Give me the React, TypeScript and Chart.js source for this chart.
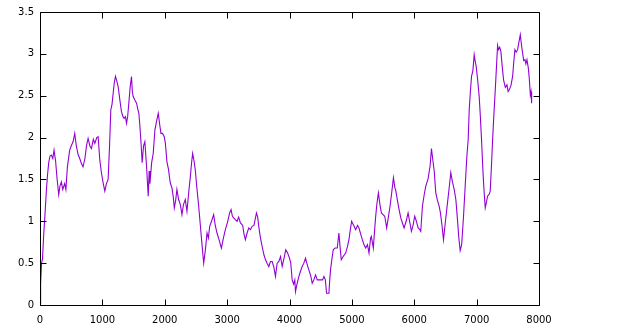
import React, { useEffect, useRef } from "react";
import { Chart, registerables } from "chart.js";

Chart.register(...registerables);

const xValues: number[] = [
  0, 10, 25, 40, 60, 75, 100, 120, 140, 160, 182, 205, 225, 250, 275, 300, 320, 343, 365, 395,
  415, 439, 476, 500, 530, 557, 582, 610, 637, 660, 690, 720, 745, 771, 800, 825, 855, 879, 910, 932,
  959, 985, 1012, 1039, 1065, 1092, 1115, 1135, 1155, 1173, 1190, 1210, 1230, 1253, 1280, 1306, 1330, 1349, 1370, 1387,
  1405, 1424, 1445, 1467, 1480, 1494, 1520, 1548, 1565, 1585, 1600, 1617, 1638, 1660, 1681, 1708, 1735, 1750, 1762, 1790,
  1815, 1842, 1870, 1896, 1920, 1939, 1965, 1992, 2010, 2035, 2060, 2088, 2115, 2135, 2153, 2175, 2195, 2222, 2250, 2276,
  2300, 2329, 2356, 2385, 2410, 2430, 2447, 2470, 2490, 2515, 2544, 2565, 2581, 2600, 2624, 2650, 2678, 2700, 2720, 2750,
  2784, 2810, 2838, 2870, 2908, 2940, 2972, 3010, 3040, 3063, 3085, 3106, 3130, 3159, 3185, 3213, 3250, 3270, 3293, 3320,
  3347, 3375, 3400, 3430, 3470, 3490, 3507, 3530, 3561, 3590, 3615, 3640, 3668, 3695, 3722, 3750, 3775, 3802, 3830, 3856,
  3883, 3910, 3940, 3970, 4000, 4020, 4043, 4065, 4085, 4096, 4120, 4150, 4175, 4203, 4230, 4257, 4285, 4310, 4340, 4364,
  4390, 4418, 4445, 4471, 4500, 4530, 4552, 4575, 4594, 4632, 4645, 4658, 4680, 4701, 4730, 4766, 4792, 4810, 4830, 4860,
  4900, 4930, 4953, 4975, 4996, 5030, 5060, 5090, 5114, 5140, 5168, 5195, 5221, 5250, 5275, 5300, 5312, 5344, 5365, 5382,
  5400, 5425, 5450, 5473, 5500, 5527, 5558, 5585, 5612, 5640, 5666, 5690, 5703, 5730, 5757, 5784, 5810, 5837, 5870, 5901,
  5930, 5955, 5980, 6008, 6035, 6062, 6090, 6104, 6131, 6160, 6185, 6222, 6254, 6276, 6295, 6320, 6345, 6372, 6399, 6420,
  6445, 6469, 6500, 6533, 6560, 6586, 6610, 6640, 6667, 6693, 6715, 6736, 6760, 6790, 6815, 6843, 6865, 6881, 6900, 6918,
  6940, 6961, 6975, 6993, 7015, 7041, 7060, 7079, 7095, 7111, 7125, 7138, 7155, 7175, 7200, 7218, 7240, 7256, 7275, 7293,
  7315, 7336, 7350, 7370, 7389, 7410, 7432, 7460, 7486, 7505, 7523, 7550, 7577, 7595, 7614, 7635, 7657, 7680, 7700, 7720,
  7737, 7755, 7775, 7790, 7807, 7829, 7845, 7861, 7872, 7882,
];

const yValues: number[] = [
  0.02, 0.25, 0.5, 0.55, 0.85, 1.02, 1.34, 1.55, 1.7, 1.78, 1.79, 1.75, 1.85, 1.72, 1.5, 1.32, 1.42, 1.47, 1.38, 1.45,
  1.38, 1.65, 1.85, 1.9, 1.95, 2.05, 1.9, 1.8, 1.75, 1.7, 1.65, 1.75, 1.9, 1.99, 1.9, 1.87, 1.98, 1.93, 2.0, 2.01,
  1.73, 1.58, 1.46, 1.36, 1.45, 1.5, 1.9, 2.33, 2.4, 2.53, 2.65, 2.73, 2.68, 2.61, 2.45, 2.31, 2.25, 2.23, 2.25, 2.17,
  2.25, 2.41, 2.6, 2.73, 2.55, 2.49, 2.45, 2.41, 2.35, 2.29, 2.15, 1.97, 1.7, 1.9, 1.95, 1.66, 1.3, 1.6, 1.45, 1.7,
  1.81, 2.09, 2.2, 2.29, 2.15, 2.05, 2.05, 2.01, 1.93, 1.71, 1.62, 1.46, 1.4, 1.3, 1.16, 1.25, 1.38, 1.26, 1.2, 1.08,
  1.2, 1.26, 1.12, 1.35, 1.53, 1.7, 1.81, 1.72, 1.61, 1.4, 1.18, 1.0, 0.86, 0.7, 0.5, 0.65, 0.86, 0.8, 0.94, 1.0,
  1.08, 0.95, 0.86, 0.78, 0.68, 0.8, 0.9, 1.0, 1.1, 1.14, 1.06, 1.04, 1.02, 1.0, 1.05, 0.98, 0.95, 0.85, 0.78, 0.86,
  0.92, 0.9, 0.94, 0.95, 1.1, 1.05, 0.94, 0.82, 0.7, 0.6, 0.54, 0.5, 0.46, 0.52, 0.52, 0.45, 0.34, 0.5, 0.52, 0.58,
  0.46, 0.55, 0.66, 0.62, 0.56, 0.5, 0.3, 0.25, 0.3, 0.16, 0.25, 0.34, 0.4, 0.46, 0.5, 0.56, 0.48, 0.42, 0.35, 0.26,
  0.3, 0.36, 0.3, 0.3, 0.3, 0.3, 0.34, 0.3, 0.14, 0.14, 0.3, 0.42, 0.55, 0.66, 0.68, 0.68, 0.86, 0.7, 0.54, 0.58,
  0.62, 0.7, 0.78, 0.9, 1.0, 0.95, 0.9, 0.95, 0.92, 0.85, 0.78, 0.72, 0.68, 0.72, 0.62, 0.8, 0.82, 0.68, 0.9, 1.06,
  1.2, 1.34, 1.2, 1.1, 1.08, 1.06, 0.92, 1.05, 1.18, 1.35, 1.52, 1.4, 1.37, 1.25, 1.14, 1.04, 0.98, 0.92, 1.0, 1.1,
  0.98, 0.88, 0.95, 1.06, 1.0, 0.92, 0.9, 0.88, 1.18, 1.32, 1.42, 1.51, 1.66, 1.87, 1.75, 1.6, 1.34, 1.25, 1.18, 1.1,
  0.95, 0.78, 1.0, 1.22, 1.4, 1.58, 1.48, 1.38, 1.26, 1.02, 0.8, 0.65, 0.72, 1.06, 1.4, 1.77, 1.98, 2.33, 2.55, 2.73,
  2.8, 2.99, 2.92, 2.85, 2.7, 2.49, 2.25, 1.97, 1.7, 1.46, 1.3, 1.16, 1.22, 1.3, 1.32, 1.36, 1.7, 1.97, 2.25, 2.49,
  2.8, 3.1, 3.05, 3.08, 3.03, 2.85, 2.69, 2.6, 2.63, 2.55, 2.57, 2.62, 2.73, 2.9, 3.05, 3.02, 3.05, 3.15, 3.23, 3.1,
  3.01, 2.92, 2.93, 2.88, 2.93, 2.83, 2.7, 2.51, 2.55, 2.41,
];

const xTickMin = 0;
const xTickMax = 8000;
const xTickStep = 1000;
const yTickMin = 0;
const yTickMax = 3.5;
const yTickStep = 0.5;

const framePlugin = {
  id: "frame",
  afterDraw(chart: any) {
    const { ctx, chartArea } = chart;
    const { left, right, top, bottom } = chartArea;
    const xs = chart.scales.x;
    const ys = chart.scales.y;
    ctx.save();
    ctx.strokeStyle = "#000";
    ctx.lineWidth = 1;
    ctx.beginPath();
    const L = Math.round(left) + 0.5;
    const R = Math.round(right) + 0.5;
    const T = Math.round(top) + 0.5;
    const B = Math.round(bottom) + 0.5;
    ctx.rect(L, T, R - L, B - T);
    const tl = 6;
    xs.ticks.forEach((t: any) => {
      const px = Math.round(xs.getPixelForValue(t.value)) + 0.5;
      ctx.moveTo(px, B);
      ctx.lineTo(px, B - tl);
      ctx.moveTo(px, T);
      ctx.lineTo(px, T + tl);
    });
    ys.ticks.forEach((t: any) => {
      const py = Math.round(ys.getPixelForValue(t.value)) + 0.5;
      ctx.moveTo(L, py);
      ctx.lineTo(L + tl, py);
      ctx.moveTo(R, py);
      ctx.lineTo(R - tl, py);
    });
    ctx.stroke();
    ctx.restore();
  },
};

export default function App() {
  const ref = useRef<HTMLCanvasElement | null>(null);
  useEffect(() => {
    if (!ref.current) return;
    const points = xValues.map((x, i) => ({ x, y: yValues[i] }));
    const font = { family: "'DejaVu Sans', Verdana, sans-serif", size: 10 };
    const plain = (v: any) => String(Math.round(Number(v) * 100) / 100);
    const chart = new Chart(ref.current, {
      type: "scatter",
      data: {
        datasets: [
          {
            data: points,
            showLine: true,
            borderColor: "#9400d3",
            borderWidth: 1.1,
            pointRadius: 0,
            fill: false,
            tension: 0,
          },
        ],
      },
      options: {
        responsive: false,
        animation: false,
        events: [],
        layout: { padding: { left: 0, top: 12, right: 101, bottom: 0 } },
        plugins: { legend: { display: false }, tooltip: { enabled: false } },
        scales: {
          x: {
            type: "linear",
            min: xTickMin,
            max: xTickMax,
            ticks: { stepSize: xTickStep, color: "#000", font, padding: 9, maxRotation: 0, callback: plain },
            grid: { display: false, drawTicks: false },
            border: { display: false },
            afterFit: (s: any) => {
              s.height = 28;
            },
          },
          y: {
            type: "linear",
            min: yTickMin,
            max: yTickMax,
            ticks: { stepSize: yTickStep, color: "#000", font, padding: 6, callback: plain },
            grid: { display: false, drawTicks: false },
            border: { display: false },
            afterFit: (s: any) => {
              s.width = 40;
            },
          },
        },
      },
      plugins: [framePlugin],
    });
    return () => chart.destroy();
  }, []);
  return (
    <div style={{ position: "fixed", left: 0, top: 0, width: 640, height: 333, background: "#fff" }}>
      <canvas ref={ref} width={640} height={333} style={{ width: 640, height: 333 }} />
    </div>
  );
}
